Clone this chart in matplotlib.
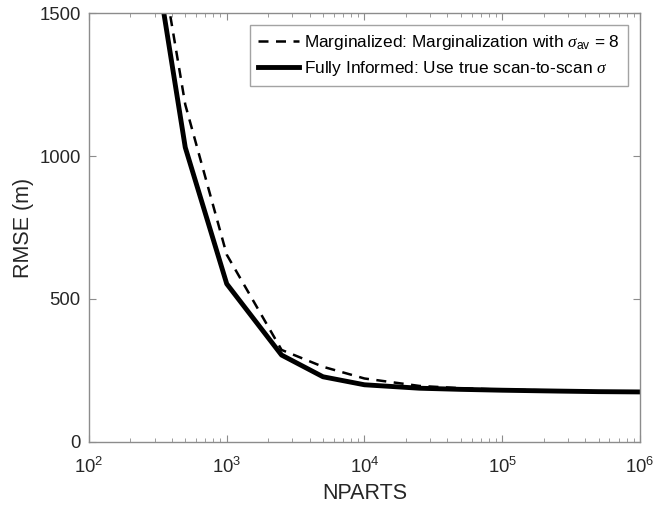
import matplotlib
matplotlib.use("Agg")
import matplotlib.pyplot as plt
from matplotlib.ticker import LogLocator, NullFormatter, FixedLocator

plt.rcParams['font.family'] = ['Liberation Sans', 'DejaVu Sans']
plt.rcParams['mathtext.fontset'] = 'custom'
plt.rcParams['mathtext.it'] = 'Liberation Serif:italic'
plt.rcParams['mathtext.rm'] = 'Liberation Sans'

nparts = [250, 500, 1000, 2500, 5000, 10000, 25000, 50000, 100000, 250000, 500000, 1000000]
rmse_marg = [2040, 1180, 655, 322, 263, 222, 196, 188, 183, 180, 177, 176]
rmse_full = [1940, 1030, 553, 304, 228, 200, 188, 184, 181, 178, 176, 175]

label_marg = r'Marginalized: Marginalization with $\sigma_{\mathrm{av}}$ = 8'
label_full = r'Fully Informed: Use true scan-to-scan $\sigma$'

fig = plt.figure(figsize=(6.67, 5.05), dpi=100)
ax = fig.add_axes([0.1334, 0.1248, 0.8261, 0.8494])

ax.plot(nparts, rmse_marg, 'k--', lw=1.8, dashes=(4, 3), label=label_marg)
ax.plot(nparts, rmse_full, 'k-', lw=3.5, label=label_full)

ax.set_xscale('log')
ax.set_xlim(1e2, 1e6)
ax.set_ylim(0, 1500)
ax.yaxis.set_major_locator(FixedLocator([0, 500, 1000, 1500]))
ax.xaxis.set_major_locator(LogLocator(base=10, numticks=10))
ax.xaxis.set_minor_locator(LogLocator(base=10, subs=range(2, 10), numticks=20))
ax.xaxis.set_minor_formatter(NullFormatter())

gray = '#8c8c8c'
for s in ax.spines.values():
    s.set_color(gray)
    s.set_linewidth(1.0)
ax.tick_params(which='both', direction='in', top=True, right=True, color=gray,
               labelsize=13.3, labelcolor='#262626')
ax.tick_params(which='major', length=5)
ax.tick_params(which='minor', length=3)
ax.tick_params(axis='x', pad=11)
ax.tick_params(axis='y', pad=6)

ax.set_xlabel('NPARTS', fontsize=15.5, color='#262626', labelpad=4)
ax.set_ylabel('RMSE (m)', fontsize=15.5, color='#262626')

leg = ax.legend(loc='upper right', fontsize=12.4, frameon=True, fancybox=False,
                edgecolor=gray, handlelength=2.4, borderpad=0.45, borderaxespad=0,
                bbox_to_anchor=(0.978, 0.972), labelspacing=0.42, handletextpad=0.3)
leg.get_frame().set_linewidth(1.0)

fig.savefig('out.png', dpi=100)
